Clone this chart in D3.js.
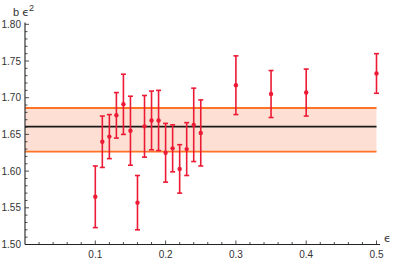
<!DOCTYPE html>
<html><head><meta charset="utf-8">
<script src="https://cdn.jsdelivr.net/npm/d3@7"></script>
<style>body{margin:0;background:#fff}svg{display:block}text{font-family:"Liberation Sans",Arial,sans-serif}</style>
</head><body><svg id="c" width="399" height="264"></svg>
<script>
const eps = [0.10,0.11,0.12,0.13,0.14,0.15,0.16,0.17,0.18,0.19,0.20,0.21,0.22,0.23,0.24,0.25,0.30,0.35,0.40,0.50];
const bVal = [1.565,1.640,1.647,1.676,1.691,1.655,1.557,1.661,1.669,1.669,1.625,1.631,1.603,1.630,1.663,1.652,1.717,1.705,1.707,1.733];
const bErr = [0.042,0.035,0.030,0.031,0.041,0.047,0.037,0.042,0.040,0.041,0.040,0.032,0.033,0.036,0.050,0.045,0.040,0.032,0.032,0.027];
const fitCenter = 1.6605, fitLow = 1.6265, fitHigh = 1.6860, fitRange = [0, 0.5];
const xTickLabels = [0.1,0.2,0.3,0.4,0.5];
const yTickLabels = [1.50,1.55,1.60,1.65,1.70,1.75,1.80];

const svg = d3.select("#c");
const x = d3.scaleLinear().domain([0, 0.5]).range([25, 376.5]);
const y = d3.scaleLinear().domain([1.50, 1.80]).range([244.5, 24.3]);

// band
svg.append("rect").attr("x", x(fitRange[0])).attr("width", x(fitRange[1]) - x(fitRange[0]))
  .attr("y", y(fitHigh)).attr("height", y(fitLow) - y(fitHigh)).attr("fill", "#fde0d3");
[fitLow, fitHigh].forEach(v => svg.append("line").attr("x1", x(fitRange[0])).attr("x2", x(fitRange[1]))
  .attr("y1", y(v)).attr("y2", y(v)).attr("stroke", "#ff7326").attr("stroke-width", 1.8));
svg.append("line").attr("x1", x(fitRange[0])).attr("x2", x(fitRange[1]))
  .attr("y1", y(fitCenter)).attr("y2", y(fitCenter)).attr("stroke", "#1a1a1a").attr("stroke-width", 1.8);

// axes
const ax = svg.append("g").attr("stroke", "#222").attr("fill", "none");
ax.append("line").attr("x1", 25).attr("x2", 380).attr("y1", 244.5).attr("y2", 244.5).attr("stroke-width", 1.1);
ax.append("line").attr("x1", 25).attr("x2", 25).attr("y1", 244.5).attr("y2", 22.5).attr("stroke-width", 1.1);
const xt = d3.range(0.02, 0.505, 0.02);
xt.forEach(t => {
  const maj = Math.abs(t*10 - Math.round(t*10)) < 1e-6;
  ax.append("line").attr("x1", x(t)).attr("x2", x(t)).attr("y1", 244.5).attr("y2", 244.5 - (maj ? 4 : 2.5)).attr("stroke-width", 0.8);
});
const yt = d3.range(1.50, 1.805, 0.01);
yt.forEach(t => {
  const maj = Math.abs(t*20 - Math.round(t*20)) < 1e-6;
  ax.append("line").attr("x1", 25).attr("x2", 25 + (maj ? 4 : 2.5)).attr("y1", y(t)).attr("y2", y(t)).attr("stroke-width", 0.8);
});
svg.selectAll(".xl").data(xTickLabels).enter().append("text").attr("x", d => x(d)).attr("y", 258)
  .attr("text-anchor", "middle").attr("font-size", 10).attr("fill", "#333").text(d => d3.format(".1f")(d));
svg.selectAll(".yl").data(yTickLabels).enter().append("text").attr("x", 21).attr("y", d => y(d) + 3.6)
  .attr("text-anchor", "end").attr("font-size", 10).attr("fill", "#333").text(d => d3.format(".2f")(d));
svg.append("text").attr("x", 384).attr("y", 242).attr("font-size", 11).attr("fill", "#333")
  .style("font-family", "'DejaVu Sans'").text("ϵ");
const yl = svg.append("text").attr("x", 13).attr("y", 16).attr("font-size", 11).attr("fill", "#333");
yl.append("tspan").text("b ");
yl.append("tspan").style("font-family", "'DejaVu Sans'").text("ϵ");
yl.append("tspan").attr("dy", -5).attr("font-size", 9).text("2");

// error bars
const red = "#ec1a34";
const g = svg.append("g");
eps.forEach((e, i) => {
  const cx = x(e), lo = y(bVal[i] - bErr[i]), hi = y(bVal[i] + bErr[i]);
  g.append("line").attr("x1", cx).attr("x2", cx).attr("y1", lo).attr("y2", hi).attr("stroke", red).attr("stroke-width", 1.6);
  [lo, hi].forEach(v => g.append("line").attr("x1", cx - 2.5).attr("x2", cx + 2.5).attr("y1", v).attr("y2", v).attr("stroke", red).attr("stroke-width", 1.6));
  g.append("circle").attr("cx", cx).attr("cy", y(bVal[i])).attr("r", 2.2).attr("fill", red);
});
</script></body></html>
